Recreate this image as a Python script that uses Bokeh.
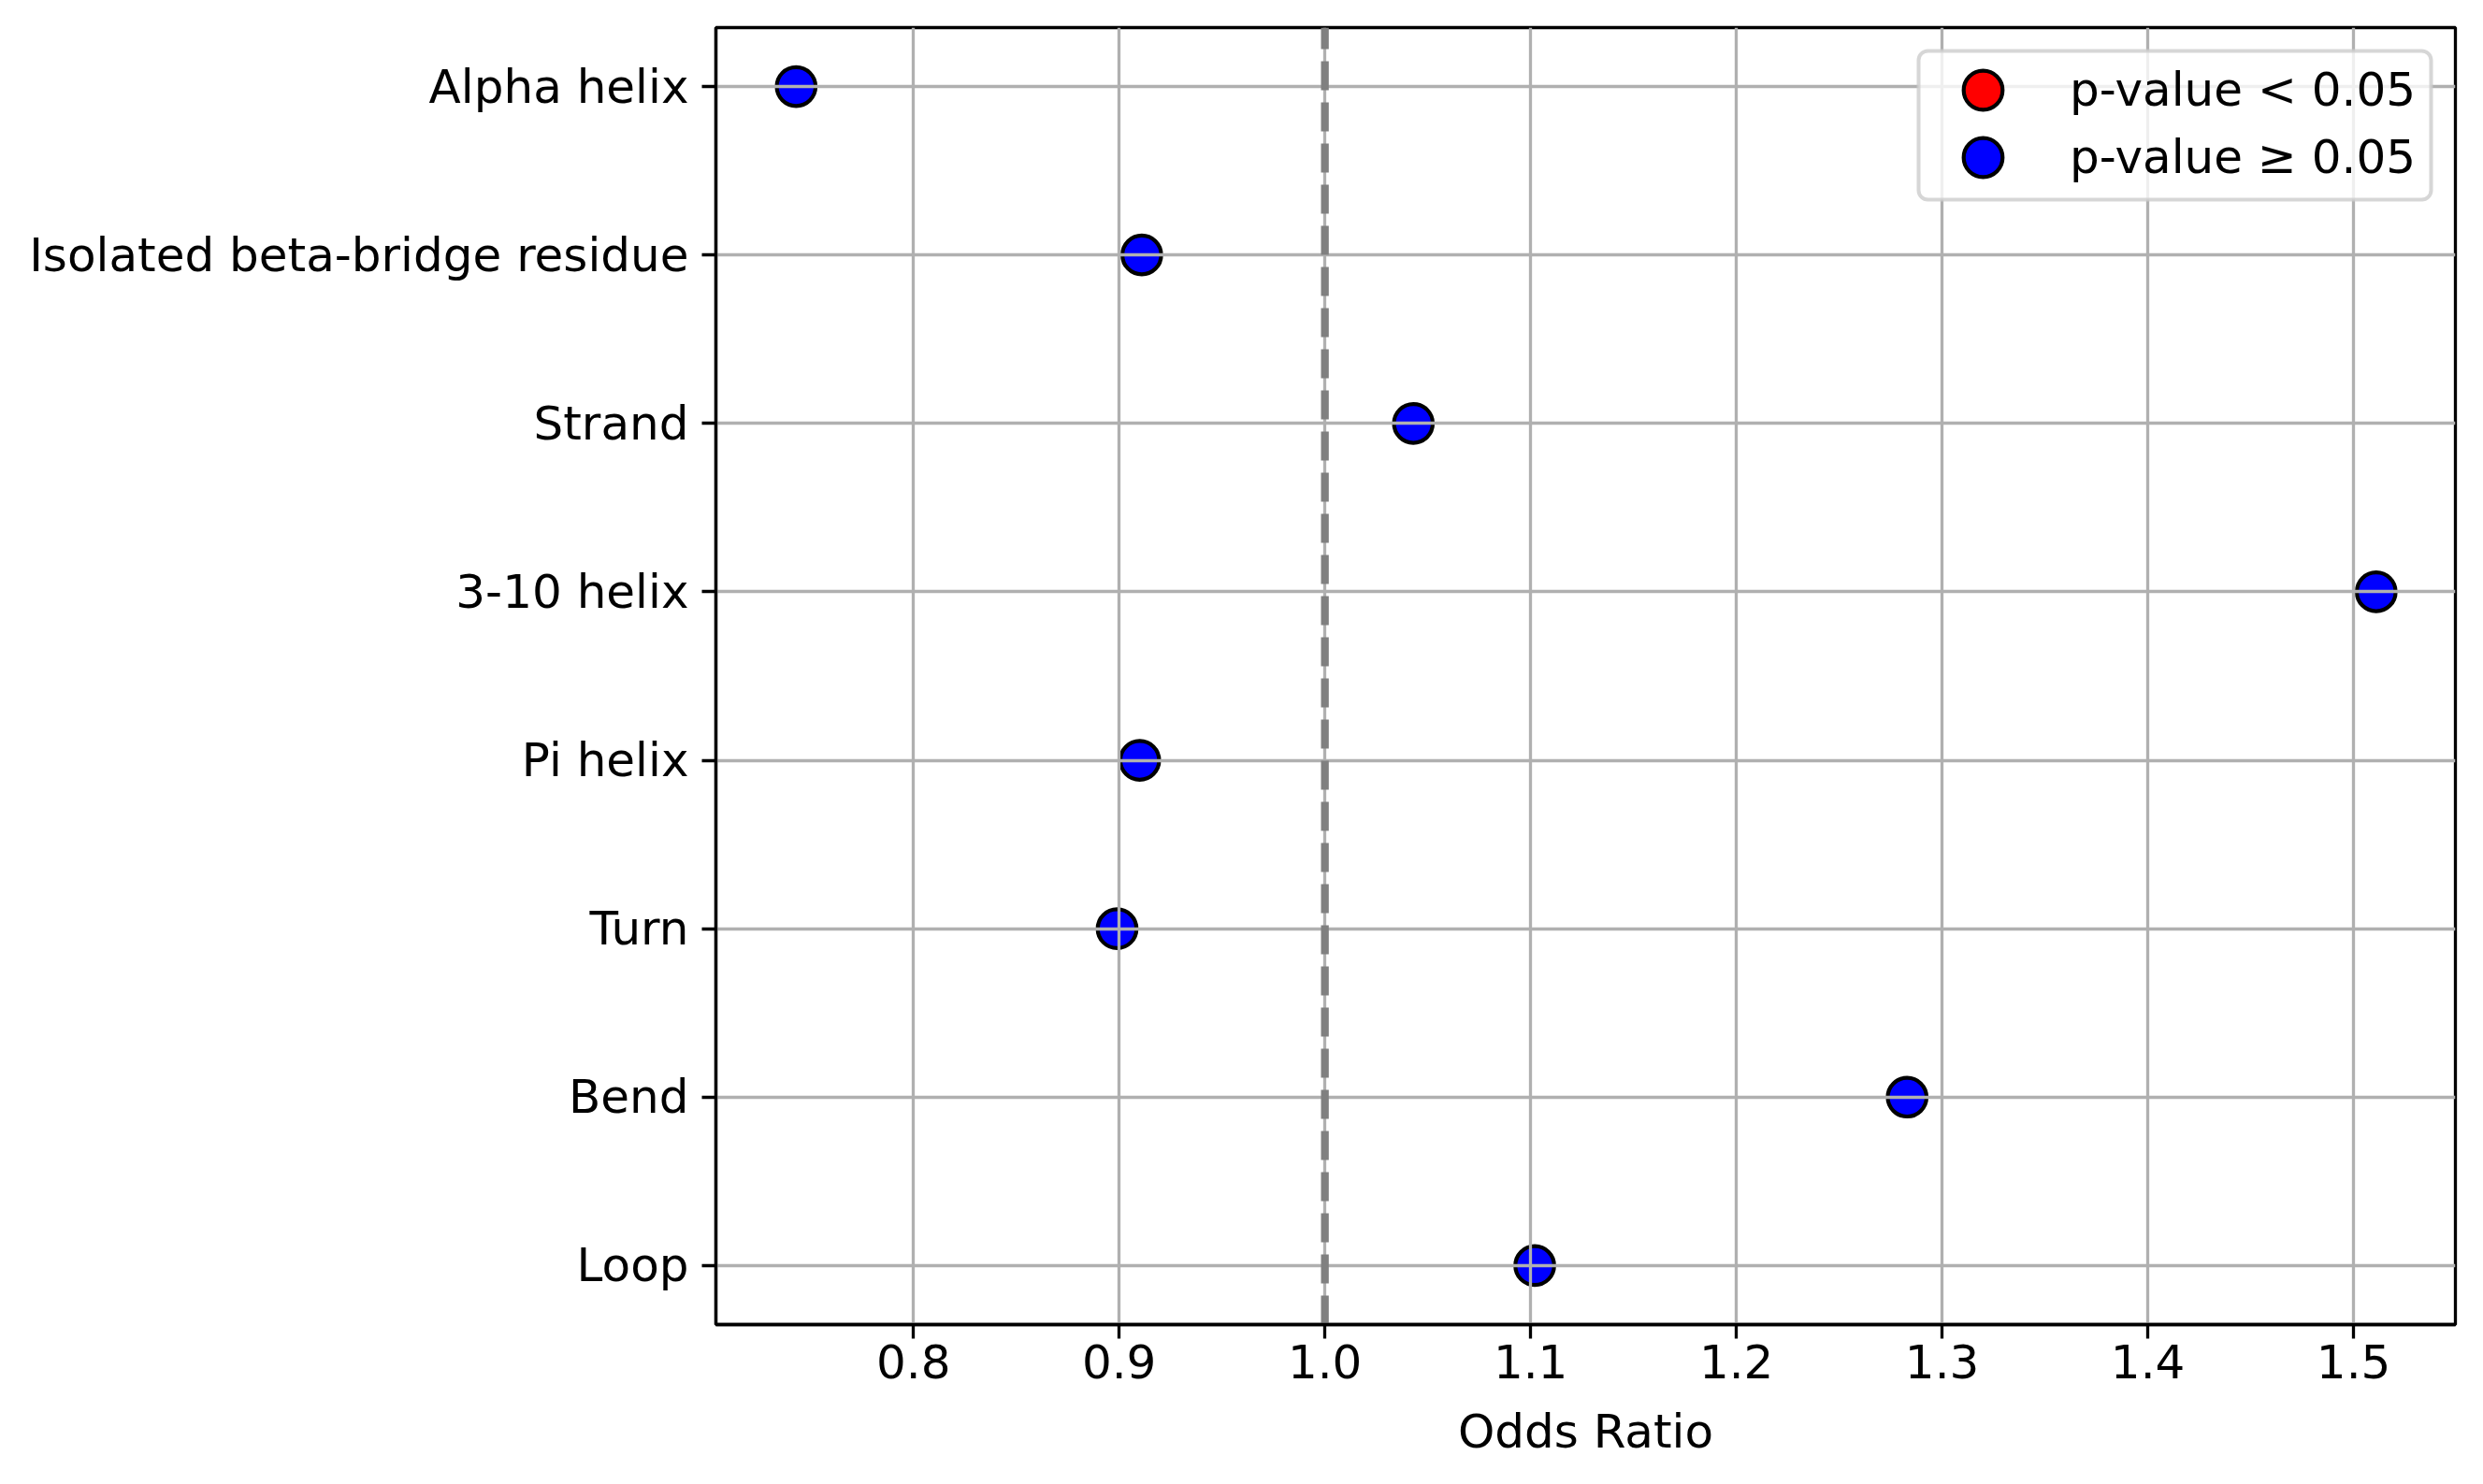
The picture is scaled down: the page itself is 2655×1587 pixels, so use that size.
from bokeh.plotting import figure
from bokeh.models import (Range1d, FixedTicker, Legend, LegendItem, ColumnDataSource,
                          CDSView, BooleanFilter, NumeralTickFormatter, BoxAnnotation)
from bokeh.embed import file_html
from bokeh.resources import INLINE

# ---- data ----
categories = ["Alpha helix", "Isolated beta-bridge residue", "Strand", "3-10 helix",
              "Pi helix", "Turn", "Bend", "Loop"]
odds_ratios = [0.743, 0.911, 1.043, 1.511, 0.910, 0.899, 1.283, 1.102]
significant = [False, False, False, False, False, False, False, False]
x_ticks = [0.8, 0.9, 1.0, 1.1, 1.2, 1.3, 1.4, 1.5]
reference_or = 1.0
legend_labels = ["p-value < 0.05", "p-value \u2265 0.05"]

FONT = "DejaVu Sans"
FS = "50px"
LW = 3.3
SIG_COLOR = "#ff0000"
NSIG_COLOR = "#0000ff"

pos = list(range(len(categories)))
source = ColumnDataSource(dict(x=odds_ratios, y=pos, category=categories,
                               significant=significant))

p = figure(output_backend="svg", toolbar_location=None,
           frame_width=1860, frame_height=1387,
           min_border_left=765, min_border_right=30,
           min_border_top=29, min_border_bottom=171,
           x_range=Range1d(0.704, 1.5495),
           y_range=Range1d(len(categories) - 1 + 0.35, -0.35))

p.background_fill_color = "white"
p.border_fill_color = "white"
p.outline_line_color = "black"
p.outline_line_width = LW

xt = FixedTicker(ticks=x_ticks)
yt = FixedTicker(ticks=pos)
p.xaxis.ticker = xt
p.yaxis.ticker = yt
p.xgrid.ticker = xt
p.ygrid.ticker = yt
for g in (p.xgrid, p.ygrid):
    g.grid_line_color = "#b0b0b0"
    g.grid_line_width = LW

p.xaxis.formatter = NumeralTickFormatter(format="0.0")
p.yaxis.major_label_overrides = {i: c for i, c in zip(pos, categories)}

for ax in (p.xaxis, p.yaxis):
    ax.axis_line_color = "black"
    ax.axis_line_width = LW
    ax.major_tick_line_width = LW
    ax.major_tick_in = 0
    ax.major_tick_out = 15
    ax.minor_tick_line_color = None
    ax.major_label_text_font = FONT
    ax.major_label_text_font_size = FS
    ax.major_label_text_color = "black"
    ax.axis_label_text_font = FONT
    ax.axis_label_text_font_size = FS
    ax.axis_label_text_font_style = "normal"
    ax.axis_label_text_color = "black"

p.xaxis.major_label_standoff = 6
p.yaxis.major_label_standoff = 14
p.xaxis.axis_label = "Odds Ratio"
p.xaxis.axis_label_standoff = 25

# markers (drawn beneath grid like matplotlib)
view_sig = CDSView(filter=BooleanFilter(booleans=significant))
view_nsig = CDSView(filter=BooleanFilter(booleans=[not s for s in significant]))
r_sig = p.scatter("x", "y", source=source, view=view_sig, size=41.5,
                  fill_color=SIG_COLOR, line_color="black", line_width=4.2,
                  level="image")
r_nsig = p.scatter("x", "y", source=source, view=view_nsig, size=41.5,
                   fill_color=NSIG_COLOR, line_color="black", line_width=4.2,
                   level="image")
# hidden key renderer so the legend can show the red swatch even with no red points
r_sig_key = p.scatter("x", "y", source=source, size=41.5,
                      fill_color=SIG_COLOR, line_color="black", line_width=4.2,
                      level="image", visible=False)

# reference line
p.line(x=[reference_or, reference_or],
       y=[p.y_range.start, p.y_range.end],
       line_color="#808080", line_width=8.3, line_dash="31 13")

# legend frame
frame_box = BoxAnnotation(left=2051, right=2599, top=54, bottom=213,
                          left_units="canvas", right_units="canvas",
                          top_units="canvas", bottom_units="canvas",
                          fill_color="white", fill_alpha=0.8,
                          line_color="#cccccc", line_alpha=0.8, line_width=4,
                          border_radius=10)
p.add_layout(frame_box)

# legend entries (one per row, so markers keep full size)
for lab, rends, vy in zip(legend_labels, [[r_sig, r_sig_key], [r_nsig]], [1268, 1196]):
    lg = Legend(items=[LegendItem(label=lab, renderers=rends)],
                location=(1303, vy), margin=0, padding=0, spacing=0,
                glyph_width=104, glyph_height=104, label_height=104,
                label_standoff=41,
                label_text_font=FONT, label_text_font_size=FS,
                label_text_color="black",
                background_fill_alpha=0, border_line_color=None,
                inactive_fill_alpha=0)
    p.add_layout(lg)

open("out.html", "w").write(file_html(p, INLINE))
